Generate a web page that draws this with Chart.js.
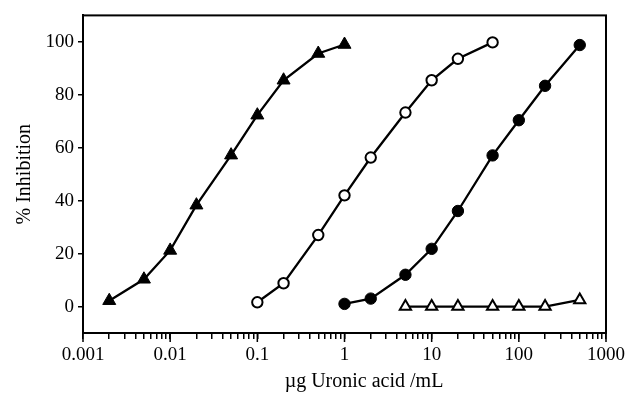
<!DOCTYPE html>
<html><head><meta charset="utf-8">
<script src="https://cdn.jsdelivr.net/npm/chart.js@4"></script>
<style>html,body{margin:0;padding:0;background:#fff}#wrap{width:626px;height:396px}</style>
</head><body><div id="wrap"><canvas id="c" width="626" height="396"></canvas></div>
<script>
// ---- data ----
const concFilledTri = [0.002, 0.005, 0.01, 0.02, 0.05, 0.1, 0.2, 0.5, 1];
const inhibFilledTri = [2.2, 10.3, 21.2, 38.3, 57.2, 72.3, 85.5, 95.6, 99];

const concOpenCirc = [0.1, 0.2, 0.5, 1, 2, 5, 10, 20, 50];
const inhibOpenCirc = [1.6, 8.8, 27, 42, 56.3, 73.3, 85.5, 93.6, 99.8];

const concFilledCirc = [1, 2, 5, 10, 20, 50, 100, 200, 500];
const inhibFilledCirc = [1, 3, 12, 21.8, 36.1, 57.1, 70.4, 83.4, 98.8];

const concOpenTri = [5, 10, 20, 50, 100, 200, 500];
const inhibOpenTri = [0, 0, 0, 0, 0, 0, 2.5];

const xMajorTicks = [0.001, 0.01, 0.1, 1, 10, 100, 1000];
const xTickLabels = ['0.001', '0.01', '0.1', '1', '10', '100', '1000'];
const xMinorMultipliers = [2, 3, 4, 5, 6, 7, 8, 9];
const yTicks = [0, 20, 40, 60, 80, 100];
const xTitle = 'µg Uronic acid /mL';
const yTitle = '% Inhibition';

// ---- build chart ----
const FONT = 'Liberation Serif';
const pts = (xs, ys) => xs.map((x, i) => ({x: x, y: ys[i]}));
const allXTicks = [];
xMajorTicks.forEach((m, i) => {
  allXTicks.push({value: m, major: true});
  if (i < xMajorTicks.length - 1) xMinorMultipliers.forEach(k => allXTicks.push({value: m * k, major: false}));
});

const framePlugin = {
  id: 'frame',
  beforeDatasetsDraw(chart) {
    const a = chart.chartArea, c = chart.ctx;
    c.save(); c.strokeStyle = '#000'; c.lineWidth = 2;
    c.strokeRect(a.left, a.top, a.right - a.left, a.bottom - a.top);
    const xs = chart.scales.x;
    c.lineWidth = 1.5;
    xMajorTicks.forEach(v => {
      const px = xs.getPixelForValue(v);
      c.beginPath(); c.moveTo(px, a.bottom); c.lineTo(px, a.bottom + 9); c.stroke();
    });
    c.restore();
  }
};
const xTitlePlugin = {
  id: 'xtitle',
  afterDraw(chart) {
    const c = chart.ctx;
    c.save(); c.font = '20px "' + FONT + '"'; c.fillStyle = '#000';
    c.textAlign = 'center'; c.textBaseline = 'alphabetic';
    c.fillText(xTitle, 364, 387);
    c.restore();
  }
};

const base = {showLine: true, tension: 0, borderColor: '#000', borderWidth: 2.3, pointBorderColor: '#000', pointHoverRadius: 0};

new Chart(document.getElementById('c'), {
  type: 'scatter',
  data: {
    datasets: [
      Object.assign({}, base, {label: 'A', data: pts(concFilledTri, inhibFilledTri), pointStyle: 'triangle', pointRadius: 7.5, pointBackgroundColor: '#000', pointBorderWidth: 1}),
      Object.assign({}, base, {label: 'B', data: pts(concOpenCirc, inhibOpenCirc), pointStyle: 'circle', pointRadius: 5.2, pointBackgroundColor: '#fff', pointBorderWidth: 2}),
      Object.assign({}, base, {label: 'C', data: pts(concFilledCirc, inhibFilledCirc), pointStyle: 'circle', pointRadius: 5.7, pointBackgroundColor: '#000', pointBorderWidth: 1}),
      Object.assign({}, base, {label: 'D', data: pts(concOpenTri, inhibOpenTri), pointStyle: 'triangle', pointRadius: 6.5, pointBackgroundColor: '#fff', pointBorderWidth: 2})
    ]
  },
  options: {
    responsive: false,
    animation: false,
    layout: {padding: {top: 14, right: 0, bottom: 0, left: 0}},
    plugins: {legend: {display: false}, tooltip: {enabled: false}},
    scales: {
      x: {
        type: 'logarithmic', min: 0.001, max: 1000, position: 'bottom',
        afterBuildTicks: s => { s.ticks = allXTicks.map(t => ({value: t.value, major: t.major})); },
        afterFit: s => { s.height = 63; s.paddingRight = 20; },
        ticks: {
          autoSkip: false, maxRotation: 0, minRotation: 0, padding: 5, color: '#000',
          font: {family: FONT, size: 19},
          callback: (v) => { const k = xMajorTicks.findIndex(m => Math.abs(m - v) / m < 1e-6); return k >= 0 ? xTickLabels[k] : ''; }
        },
        grid: {drawOnChartArea: false, drawTicks: true, tickLength: 6, color: '#000', lineWidth: 1.5},
        border: {display: true, color: '#000', width: 2}
      },
      y: {
        min: -10, max: 110,
        afterBuildTicks: s => { s.ticks = yTicks.map(v => ({value: v})); },
        afterFit: s => { s.width = 83; },
        ticks: {padding: 4, color: '#000', font: {family: FONT, size: 19}},
        grid: {drawOnChartArea: false, drawTicks: true, tickLength: 5, color: '#000', lineWidth: 1.5},
        border: {display: true, color: '#000', width: 2},
        title: {display: true, text: yTitle, color: '#000', font: {family: FONT, size: 20}, padding: {top: 13, bottom: 0}}
      }
    }
  },
  plugins: [framePlugin, xTitlePlugin]
});
</script>
</body></html>
